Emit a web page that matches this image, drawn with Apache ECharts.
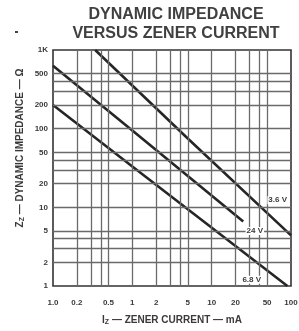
<!DOCTYPE html>
<html><head><meta charset="utf-8">
<script src="https://cdn.jsdelivr.net/npm/echarts@6/dist/echarts.min.js"></script>
<style>html,body{margin:0;padding:0;background:#fff}#c{width:299px;height:331px}</style>
</head><body><div id="c"></div>
<script>
const title1 = "DYNAMIC IMPEDANCE";
const title2 = "VERSUS ZENER CURRENT";
const seriesNames = ["3.6 V", "24 V", "6.8 V"];
const current36 = [0.34, 5, 100];
const imped36 = [1000, 75, 4.4];
const current24 = [0.1, 1, 25];
const imped24 = [630, 95, 6.6];
const current68 = [0.1, 1, 90];
const imped68 = [200, 33, 1];
const labelCurrent = [68, 35, 32];
const labelImped = [12.3, 5.0, 1.2];
const xTickValues = [0.1, 0.2, 0.5, 1, 2, 5, 10, 20, 50, 100];
const xTickLabels = ["1.0", "0.2", "0.5", "1", "2", "5", "10", "20", "50", "100"];
const yTickValues = [1, 2, 5, 10, 20, 50, 100, 200, 500, 1000];
const yTickLabels = ["1", "2", "5", "10", "20", "50", "100", "200", "500", "1K"];
const xGridValues = [0.2, 0.3, 0.4, 0.5, 1, 2, 3, 4, 5, 10, 20, 30, 40, 50];
const yGridValues = [2, 3, 4, 5, 10, 20, 30, 40, 50, 100, 200, 300, 400, 500];
const xTitle = "I";
const yTitle = "Z";

const FONT = "Liberation Sans";
const ink = "#3a3a3a";
const chart = echarts.init(document.getElementById('c'));

function zip(a, b) { return a.map((v, i) => [v, b[i]]); }
const curves = [zip(current36, imped36), zip(current24, imped24), zip(current68, imped68)];

const gridLines = xGridValues.map(v => ({ xAxis: v }))
  .concat(yGridValues.map(v => ({ yAxis: v })));
const tickLines = xTickValues.map((v, i) => ({
  xAxis: v,
  label: { show: true, position: 'start', formatter: xTickLabels[i], distance: 13 }
})).concat(yTickValues.map((v, i) => ({
  yAxis: v,
  label: { show: true, position: 'start', formatter: yTickLabels[i], distance: 5 }
})));

const series = [
  {
    type: 'line', data: [], silent: true,
    markLine: {
      silent: true, symbol: 'none', animation: false,
      lineStyle: { color: '#6a6a6a', width: 1.3, type: 'solid' },
      label: { show: false },
      data: gridLines
    }
  },
  {
    type: 'line', data: [], silent: true,
    markLine: {
      silent: true, symbol: 'none', animation: false,
      lineStyle: { color: 'rgba(0,0,0,0)', width: 1 },
      label: { show: true, fontSize: 8, fontWeight: 'bold', color: ink, fontFamily: FONT },
      data: tickLines
    }
  }
].concat(curves.map((d, i) => ({
  type: 'line', name: seriesNames[i], data: d, symbol: 'none', animation: false,
  lineStyle: { color: '#262626', width: 2.6 },
  markPoint: {
    symbol: 'circle', symbolSize: 0, animation: false,
    label: { show: true, position: 'inside', fontSize: 8, fontWeight: 'bold', color: ink, fontFamily: FONT, backgroundColor: '#fff', padding: [0, 1] },
    data: [{ coord: [labelCurrent[i], labelImped[i]], label: { formatter: seriesNames[i] } }]
  }
})));

chart.setOption({
  animation: false,
  title: {
    text: title1 + "\n" + title2,
    left: 171, top: 0, textAlign: 'center',
    textStyle: { fontSize: 16, fontWeight: 'bold', lineHeight: 19, color: '#404040', fontFamily: FONT }
  },
  grid: { left: 53, right: 8, top: 50, bottom: 42, show: true, borderColor: '#333', borderWidth: 1.6, backgroundColor: '#fff' },
  xAxis: {
    type: 'log', logBase: 10, min: 0.1, max: 100,
    axisLabel: { show: false }, axisTick: { show: false }, axisLine: { show: false }, splitLine: { show: false },
    name: "{a|" + xTitle + "}{s|Z}{a| — ZENER CURRENT — mA}",
    nameLocation: 'middle', nameGap: 28,
    nameTextStyle: {
      rich: {
        a: { fontSize: 10, fontWeight: 'bold', color: ink, fontFamily: FONT },
        s: { fontSize: 7, fontWeight: 'bold', color: ink, fontFamily: FONT, padding: [5, 0, 0, 0] }
      }
    }
  },
  yAxis: {
    type: 'log', logBase: 10, min: 1, max: 1000,
    axisLabel: { show: false }, axisTick: { show: false }, axisLine: { show: false }, splitLine: { show: false }
  },
  graphic: [
    {
      type: 'text', x: 20, y: 148, rotation: Math.PI / 2,
      style: {
        text: "{a|" + yTitle + "}{s|Z}{a| — DYNAMIC IMPEDANCE — Ω}",
        align: 'center', verticalAlign: 'middle',
        rich: {
          a: { fontSize: 10, fontWeight: 'bold', fill: ink, fontFamily: FONT },
          s: { fontSize: 7, fontWeight: 'bold', fill: ink, fontFamily: FONT, padding: [5, 0, 0, 0] }
        }
      }
    },
    { type: 'rect', shape: { x: 15, y: 31, width: 3, height: 2 }, style: { fill: '#444' } }
  ],
  series: series
});
</script>
</body></html>
